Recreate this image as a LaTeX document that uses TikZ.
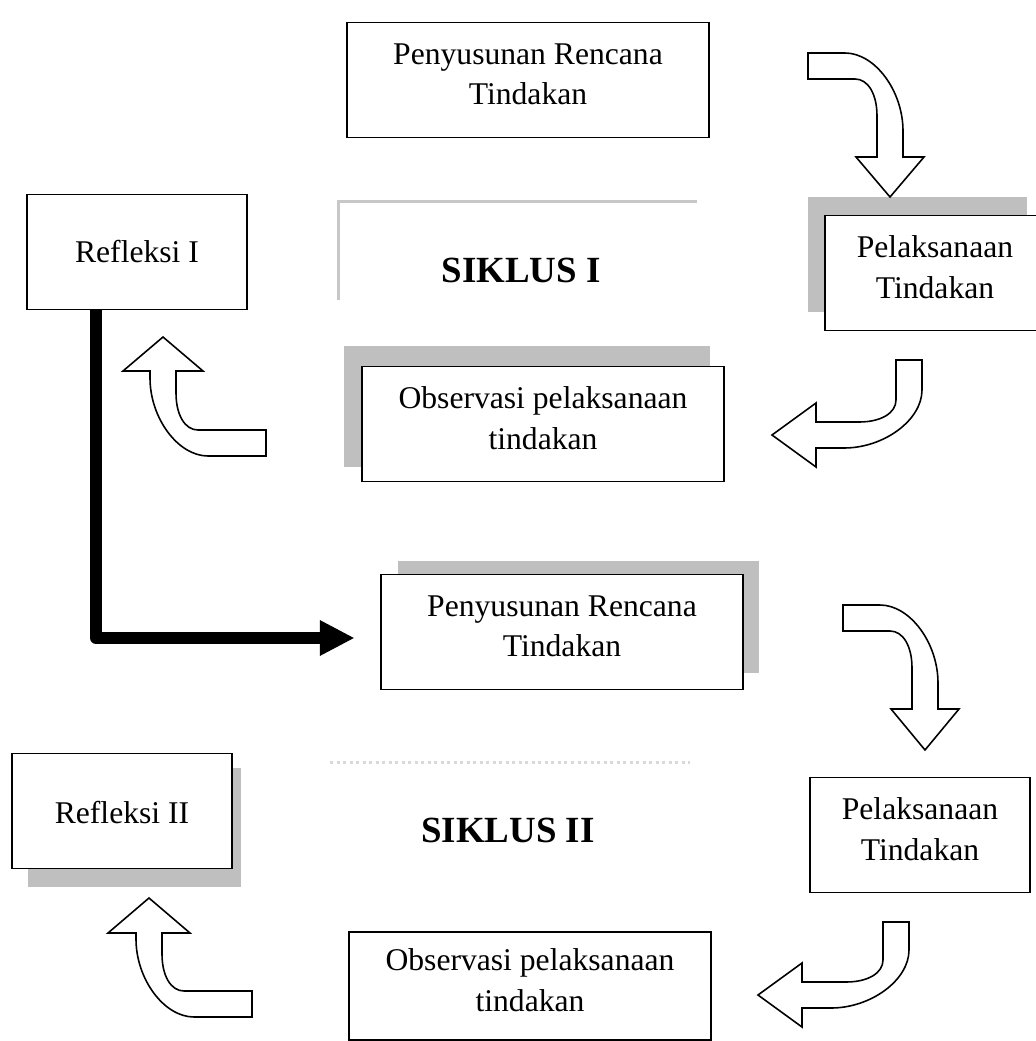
\documentclass[tikz,border=0pt]{standalone}
\usepackage{fontspec}
\setmainfont{Liberation Serif}
\usetikzlibrary{arrows.meta,backgrounds}

\tikzset{
  pics/bent/.style args={#1/#2/#3/#4}{code={
    \draw[bentline] (-#1,-13) -- (-45,-13) .. controls (-15,-13) and (13,25) .. (13,65)
      -- (13,#2) -- (#4,#2) -- (0,#3) -- (-#4,#2) -- (-13,#2) -- (-13,50)
      .. controls (-13,28) and (-22,13) .. (-35,13) -- (-#1,13) -- cycle;
  }}
}

\begin{document}
\begin{tikzpicture}[x=0.02cm,y=-0.02cm,% one unit is one pixel, y downwards
    box/.style={draw,fill=white,line width=1.1pt,align=center,
      font=\fontsize{18}{23}\selectfont,minimum height=2.3cm},
    widebox/.style={box,minimum width=7.25cm},
    smallbox/.style={box,minimum width=4.4cm},
    lifted/.style={text depth=0.24cm},
    cycletitle/.style={font=\fontsize{21}{25}\bfseries\selectfont},
    bentline/.style={draw,fill=white,line width=0.9pt},
    flowline/.style={line width=0.24cm,line join=round,
      -{Triangle[length=0.68cm,width=0.72cm,line width=0pt]}},
    scanshade/.style={fill=black!25},
    scanline/.style={draw=black!22,line width=0.06cm}]
    \useasboundingbox (0,0) rectangle (1035,1041);

    % Siklus I
    \node[widebox,lifted] (pen1) at (528,80) {Penyusunan Rencana\\Tindakan};
    \node[smallbox] (ref1) at (137,252) {Refleksi I};
    \node[cycletitle] (sik1) at (521,270) {SIKLUS I};
    \node[smallbox,lifted] (pel1) at (935,273) {Pelaksanaan\\Tindakan};
    \node[widebox,lifted] (obs1) at (543,424) {Observasi pelaksanaan\\tindakan};

    % Siklus II
    \node[widebox,lifted] (pen2) at (562,632) {Penyusunan Rencana\\Tindakan};
    \node[smallbox,text height=0.5cm] (ref2) at (122,811) {Refleksi II};
    \node[cycletitle] (sik2) at (508,830) {SIKLUS II};
    \node[smallbox,lifted] (pel2) at (920,835) {Pelaksanaan\\Tindakan};
    \node[widebox,lifted,minimum height=2.16cm] (obs2) at (530,986) {Observasi pelaksanaan\\tindakan};

    % Bent arrows round each cycle
    \pic (bendA) at (890,66) {bent=82/91/131/34};
    \pic[rotate=-90] (bendB) at (909,435) {bent=75/93/137/32};
    \pic[rotate=180] (bendC) at (163,443) {bent=103/72/106/40};
    \pic (bendD) at (925,618) {bent=82/91/132/34};
    \pic[rotate=-90] (bendE) at (896,995) {bent=73/94/138/32};
    \pic[rotate=180] (bendF) at (149,1004) {bent=103/71/106/41};

    % From Refleksi I to the second cycle
    \coordinate (turn) at (96,638);
    \draw[flowline,shorten >=0.52cm] (ref1.south -| turn) -- (turn) -- (turn -| pen2.west);

    % Grey marks of the scan
    \begin{scope}[on background layer]
    \fill[scanshade] ([shift={(-16,-18)}]pel1.north west) rectangle ([shift={(-19,-19)}]pel1.south east);
    \fill[scanshade] ([shift={(-17,-20)}]obs1.north west) rectangle ([shift={(-15,-15)}]obs1.south east);
    \fill[scanshade] ([shift={(18,-13)}]pen2.north west) rectangle ([shift={(15,-17)}]pen2.south east);
    \fill[scanshade] ([shift={(17,15)}]ref2.north west) rectangle ([shift={(8,18)}]ref2.south east);
    \draw[scanline] (697,201) -- (338,201) -- (338,300);
    \draw[scanline,draw=black!15,dotted] (330,762) -- (690,762);
    \end{scope}

\end{tikzpicture}
\end{document}
